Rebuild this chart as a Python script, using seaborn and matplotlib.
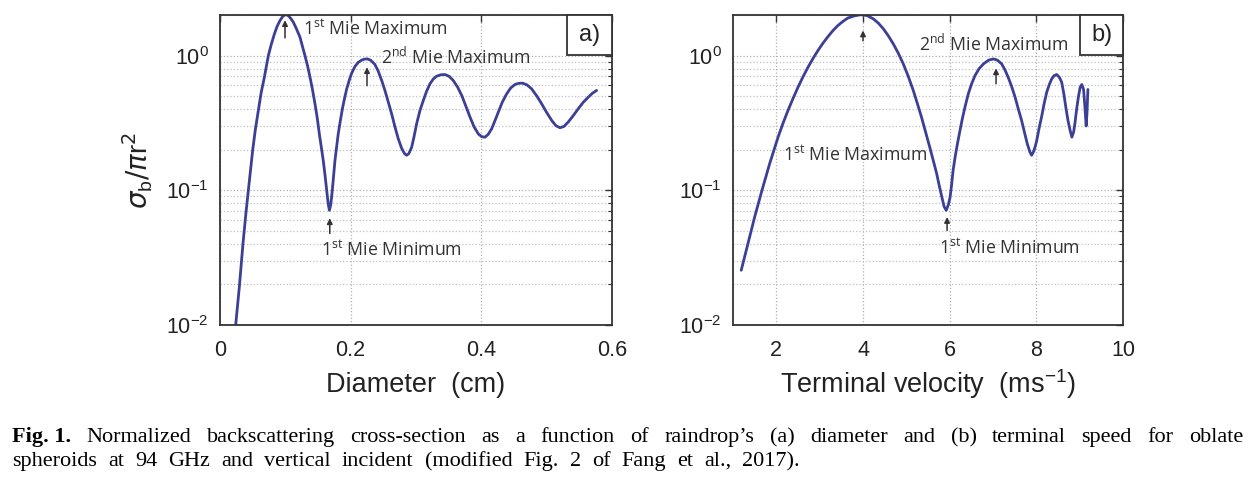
import numpy as np
import pandas as pd
import seaborn as sns
import matplotlib
matplotlib.use("Agg")
import matplotlib.pyplot as plt
from matplotlib.patches import Rectangle
from matplotlib.ticker import LogLocator, NullFormatter

# values (normalized backscatter sigma_b / pi r^2)
diameter = [0.024, 0.0296, 0.0352, 0.040, 0.0434, 0.047, 0.050, 0.054, 0.0587, 0.063,
            0.0679, 0.074, 0.0787, 0.0831, 0.0875, 0.0918, 0.096, 0.1005, 0.105, 0.1085,
            0.1122, 0.117, 0.1224, 0.126, 0.130, 0.134, 0.1378, 0.1415, 0.1454, 0.149,
            0.152, 0.155, 0.158, 0.1607, 0.1633, 0.1655, 0.1674, 0.1695, 0.1719, 0.174,
            0.176, 0.1785, 0.181, 0.1845, 0.1878, 0.191, 0.1939, 0.198, 0.2015, 0.2066,
            0.2115, 0.2168, 0.2215, 0.226, 0.231, 0.237, 0.242, 0.2475, 0.2525, 0.2576,
            0.263, 0.2679, 0.273, 0.278, 0.2825, 0.2857, 0.289, 0.2934, 0.297, 0.301,
            0.306, 0.3112, 0.316, 0.3214, 0.3265, 0.3317, 0.338, 0.3444, 0.351, 0.357,
            0.3635, 0.370, 0.376, 0.3827, 0.389, 0.3954, 0.4005, 0.4056, 0.4105, 0.4158,
            0.421, 0.426, 0.432, 0.4388, 0.445, 0.4515, 0.457, 0.4633, 0.470, 0.477,
            0.485, 0.4924, 0.500, 0.5077, 0.514, 0.5204, 0.5265, 0.533, 0.541, 0.5484,
            0.556, 0.5637, 0.570, 0.5765]
sigma_diam = [0.010, 0.0192, 0.0403, 0.070, 0.100, 0.145, 0.198, 0.28, 0.392, 0.53,
              0.69, 1.0, 1.22, 1.44, 1.65, 1.82, 1.95, 2.02, 1.97, 1.88,
              1.77, 1.58, 1.37, 1.18, 1.0, 0.84, 0.69, 0.56, 0.438, 0.34,
              0.263, 0.21, 0.167, 0.13, 0.100, 0.080, 0.071, 0.078, 0.100, 0.13,
              0.167, 0.21, 0.263, 0.335, 0.414, 0.49, 0.565, 0.66, 0.74, 0.83,
              0.89, 0.925, 0.942, 0.944, 0.92, 0.86, 0.77, 0.653, 0.55, 0.451,
              0.365, 0.294, 0.24, 0.205, 0.187, 0.182, 0.187, 0.209, 0.25, 0.312,
              0.39, 0.464, 0.54, 0.617, 0.67, 0.703, 0.72, 0.723, 0.70, 0.653,
              0.585, 0.506, 0.425, 0.349, 0.295, 0.262, 0.25, 0.248, 0.26, 0.286,
              0.33, 0.38, 0.45, 0.52, 0.575, 0.61, 0.622, 0.624, 0.605, 0.566,
              0.50, 0.438, 0.378, 0.330, 0.302, 0.291, 0.298, 0.321, 0.36, 0.403,
              0.45, 0.491, 0.525, 0.551]

velocity = [1.19, 1.346, 1.50, 1.669, 1.847, 2.04, 2.155, 2.27, 2.385, 2.50,
            2.615, 2.73, 2.845, 2.96, 3.075, 3.19, 3.305, 3.42, 3.535, 3.65,
            3.80, 3.95, 4.10, 4.24, 4.355, 4.47, 4.585, 4.70, 4.815, 4.93,
            5.045, 5.16, 5.255, 5.35, 5.445, 5.54, 5.62, 5.70, 5.76, 5.82,
            5.87, 5.92, 5.97, 6.01, 6.045, 6.08, 6.13, 6.18, 6.24, 6.30,
            6.365, 6.43, 6.505, 6.585, 6.68, 6.78, 6.90, 7.01, 7.10, 7.20,
            7.275, 7.35, 7.43, 7.51, 7.585, 7.66, 7.725, 7.79, 7.85, 7.89,
            7.94, 7.98, 8.01, 8.065, 8.12, 8.18, 8.24, 8.30, 8.355, 8.41,
            8.47, 8.53, 8.585, 8.635, 8.68, 8.73, 8.78, 8.82, 8.86, 8.89,
            8.93, 8.97, 9.01, 9.05, 9.09, 9.12, 9.15, 9.17, 9.19]
sigma_vel = [0.0255, 0.0403, 0.0634, 0.100, 0.158, 0.248, 0.315, 0.392, 0.48, 0.582,
             0.695, 0.818, 0.95, 1.089, 1.235, 1.38, 1.53, 1.67, 1.79, 1.90,
             1.97, 2.01, 1.98, 1.87, 1.74, 1.58, 1.40, 1.22, 1.04, 0.867,
             0.70, 0.551, 0.44, 0.349, 0.27, 0.209, 0.167, 0.133, 0.108, 0.089,
             0.076, 0.071, 0.078, 0.089, 0.11, 0.141, 0.18, 0.222, 0.28, 0.349,
             0.43, 0.52, 0.615, 0.711, 0.80, 0.867, 0.925, 0.944, 0.925, 0.867,
             0.785, 0.69, 0.59, 0.491, 0.40, 0.330, 0.27, 0.222, 0.193, 0.182,
             0.195, 0.215, 0.235, 0.29, 0.349, 0.44, 0.535, 0.61, 0.671, 0.71,
             0.723, 0.69, 0.634, 0.52, 0.414, 0.33, 0.278, 0.248, 0.27, 0.312,
             0.40, 0.491, 0.58, 0.61, 0.56, 0.42, 0.30, 0.38, 0.56]

xticks_a = [0, 0.2, 0.4, 0.6]
xticklabels_a = ["0", "0.2", "0.4", "0.6"]
xticks_b = [2, 4, 6, 8, 10]
xticklabels_b = ["2", "4", "6", "8", "10"]

caption_1 = ["Normalized", "backscattering", "cross-section", "as", "a", "function", "of",
             "raindrop\u2019s", "(a)", "diameter", "and", "(b)", "terminal", "speed", "for", "oblate"]
caption_2 = ["spheroids", "at", "94", "GHz", "and", "vertical", "incident", "(modified",
             "Fig.", "2", "of", "Fang", "et", "al.,", "2017)."]

df_a = pd.DataFrame({"diameter": diameter, "sigma": sigma_diam})
df_b = pd.DataFrame({"velocity": velocity, "sigma": sigma_vel})

sns.set_style("white")
plt.rcParams["font.family"] = ["Liberation Sans", "DejaVu Sans"]

W, H = 1257, 486
fig = plt.figure(figsize=(W / 100, H / 100), dpi=100)
ax_a = fig.add_axes([220 / W, (H - 325) / H, 392 / W, 310 / H])
ax_b = fig.add_axes([733 / W, (H - 325) / H, 390 / W, 310 / H])

line_color = "#3b3f96"
sns.lineplot(data=df_a, x="diameter", y="sigma", ax=ax_a, color=line_color, lw=2.0,
             estimator=None, sort=False)
sns.lineplot(data=df_b, x="velocity", y="sigma", ax=ax_b, color=line_color, lw=2.0,
             estimator=None, sort=False)

for ax in (ax_a, ax_b):
    ax.set_yscale("log")
    ax.set_ylim(0.01, 2.0)
    ax.yaxis.set_minor_locator(LogLocator(base=10, subs=np.arange(2, 10)))
    ax.yaxis.set_minor_formatter(NullFormatter())
    ax.grid(True, which="major", ls=":", color="#b0b0b0", lw=0.9)
    ax.grid(True, which="minor", axis="y", ls=":", color="#c0c0c0", lw=0.9)
    ax.tick_params(which="both", direction="in", top=True, right=True, colors="#333333",
                   labelcolor="#222222")
    ax.tick_params(which="major", length=5, width=1, labelsize=15.5)
    ax.tick_params(axis="x", which="major", pad=11)
    ax.tick_params(axis="y", which="major", pad=8)
    ax.tick_params(which="minor", length=3, width=0.8)
    for s in ax.spines.values():
        s.set_color("#333333")
        s.set_linewidth(1.3)
    ax.set_ylabel("")

ax_a.set_xlim(0, 0.6)
ax_a.set_xticks(xticks_a)
ax_a.set_xticklabels(xticklabels_a)
ax_b.set_xlim(1, 10)
ax_b.set_xticks(xticks_b)
ax_b.set_xticklabels(xticklabels_b)

ax_a.set_xlabel("Diameter  (cm)", fontsize=19.5, color="#222222", labelpad=8)
ax_b.set_xlabel("Terminal velocity  (ms$^{\\mathdefault{-1}}$)", fontsize=19.5,
                color="#222222", labelpad=4)
ax_a.set_ylabel("$\\sigma_{\\mathdefault{b}}/\\pi\\mathdefault{r}^{2}$", fontsize=20,
                color="#222222", labelpad=8)

# annotations
ann = dict(family=["Open Sans", "DejaVu Sans"], fontsize=12.8, color="#333333")
arrow = dict(arrowstyle="-|>", color="#333333", lw=1.1, mutation_scale=8)

ax_a.annotate("", xy=(0.0995, 1.92), xytext=(0.0995, 1.29), arrowprops=arrow)
ax_a.annotate("", xy=(0.225, 0.86), xytext=(0.225, 0.57), arrowprops=arrow)
ax_a.annotate("", xy=(0.168, 0.065), xytext=(0.168, 0.0456), arrowprops=arrow)
ax_a.text(0.127, 1.58, "1$^{\\mathdefault{st}}$ Mie Maximum", va="center", **ann)
ax_a.text(0.246, 0.966, "2$^{\\mathdefault{nd}}$ Mie Maximum", va="center", **ann)
ax_a.text(0.263, 0.036, "1$^{\\mathdefault{st}}$ Mie Minimum", va="center", ha="center", **ann)

ax_b.annotate("", xy=(4.0, 1.61), xytext=(4.0, 1.227), arrowprops=arrow)
ax_b.annotate("", xy=(7.07, 0.843), xytext=(7.07, 0.589), arrowprops=arrow)
ax_b.annotate("", xy=(5.94, 0.0664), xytext=(5.94, 0.048), arrowprops=arrow)
ax_b.text(3.82, 0.1815, "1$^{\\mathdefault{st}}$ Mie Maximum", va="center", ha="center", **ann)
ax_b.text(5.30, 1.206, "2$^{\\mathdefault{nd}}$ Mie Maximum", va="center", **ann)
ax_b.text(7.37, 0.0372, "1$^{\\mathdefault{st}}$ Mie Minimum", va="center", ha="center", **ann)

for ax, x0, lab in ((ax_a, 0.885, "a)"), (ax_b, 0.89, "b)")):
    ax.add_patch(Rectangle((x0, 0.871), 1 - x0, 0.129, transform=ax.transAxes,
                           fill=True, facecolor="white", edgecolor="#333333", lw=1.3,
                           zorder=5, clip_on=False))
    ax.text((x0 + 1) / 2, 0.935, lab, transform=ax.transAxes, ha="center", va="center",
            fontsize=17, color="#222222", zorder=6)

# caption, words spread to the reference line widths
cap = dict(family=["Liberation Serif", "DejaVu Serif"], fontsize=16, color="black",
           va="baseline")
renderer = fig.canvas.get_renderer()


def spread(words, y, left, right):
    texts = [fig.text(0, 1 - y / H, w, fontweight=fw, transform=fig.transFigure, **cap)
             for w, fw in words]
    widths = [t.get_window_extent(renderer).width for t in texts]
    gap = (right - left - sum(widths)) / (len(texts) - 1)
    x = left
    for t, w in zip(texts, widths):
        t.set_x(x / W)
        x += w + gap


spread([("Fig. 1.", "bold")] + [(w, "normal") for w in caption_1], 442, 12, 1243)
spread([(w, "normal") for w in caption_2], 466, 12, 800)

fig.savefig("out.png", dpi=100)
